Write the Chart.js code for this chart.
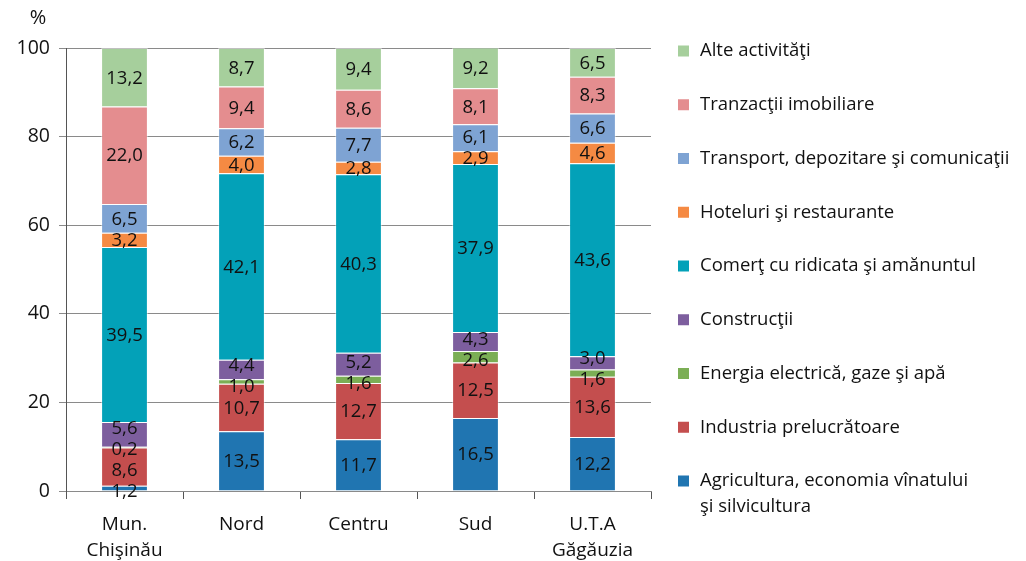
<!DOCTYPE html>
<html>
<head>
<meta charset="utf-8">
<script src="https://cdn.jsdelivr.net/npm/chart.js@4/dist/chart.umd.min.js"></script>
<style>
  body { margin: 0; background: #fff; }
  #wrap { width: 1026px; height: 561px; position: relative; }
</style>
</head>
<body>
<div id="wrap"><canvas id="chart"></canvas></div>
<script>
// Regions (x axis)
const categories = [["Mun.", "Chişinău"], "Nord", "Centru", "Sud", ["U.T.A", "Găgăuzia"]];

// Share of each activity, %
const agricultura = [1.2, 13.5, 11.7, 16.5, 12.2];
const industria = [8.6, 10.7, 12.7, 12.5, 13.6];
const energia = [0.2, 1.0, 1.6, 2.6, 1.6];
const constructii = [5.6, 4.4, 5.2, 4.3, 3.0];
const comert = [39.5, 42.1, 40.3, 37.9, 43.6];
const hoteluri = [3.2, 4.0, 2.8, 2.9, 4.6];
const transport = [6.5, 6.2, 7.7, 6.1, 6.6];
const tranzactii = [22.0, 9.4, 8.6, 8.1, 8.3];
const alte = [13.2, 8.7, 9.4, 9.2, 6.5];

const yTicks = [0, 20, 40, 60, 80, 100];

const FONT = "'Open Sans', 'DejaVu Sans', sans-serif";

const fmt = (v) => v.toFixed(1).replace(".", ",");

// Value labels inside the segments, nudged apart when they crowd
const segmentLabels = {
  id: "segmentLabels",
  afterDatasetsDraw(chart) {
    const ctx = chart.ctx;
    const gap = 21;
    ctx.save();
    ctx.font = "18.5px " + FONT;
    ctx.fillStyle = "#111";
    ctx.textAlign = "center";
    ctx.textBaseline = "middle";
    categories.forEach((c, i) => {
      const items = [];
      chart.data.datasets.forEach((ds, d) => {
        const bar = chart.getDatasetMeta(d).data[i];
        items.push({ x: bar.x, y: (bar.y + bar.base) / 2, text: fmt(ds.data[i]) });
      });
      items.sort((a, b) => b.y - a.y);
      for (let k = 0; k < 60; k++) {
        for (let j = 0; j < items.length - 1; j++) {
          const diff = items[j].y - items[j + 1].y;
          if (diff < gap) {
            const s = (gap - diff) / 2;
            items[j].y += s;
            items[j + 1].y -= s;
          }
        }
      }
      items.forEach((it) => ctx.fillText(it.text, it.x, it.y + 1));
    });
    ctx.restore();
  },
};

// Legend on the right, top item = last dataset
const sideLegend = {
  id: "sideLegend",
  afterDraw(chart) {
    const ctx = chart.ctx;
    const list = chart.data.datasets.slice().reverse();
    ctx.save();
    ctx.font = "18.5px " + FONT;
    ctx.textBaseline = "middle";
    ctx.textAlign = "left";
    list.forEach((ds, i) => {
      const y = 51 + i * 53.75;
      ctx.fillStyle = ds.backgroundColor;
      ctx.fillRect(678, y - 5.5, 11, 11);
      ctx.fillStyle = "#111";
      ds.label.split("\n").forEach((line, n) => {
        ctx.fillText(line, 700, y + n * 26);
      });
    });
    // unit
    ctx.font = "20px " + FONT;
    ctx.textAlign = "center";
    ctx.fillText("%", 38, 18);
    ctx.restore();
  },
};

const series = [
  { label: "Agricultura, economia vînatului\nşi silvicultura", data: agricultura, color: "#2075b1" },
  { label: "Industria prelucrătoare", data: industria, color: "#c44e4e" },
  { label: "Energia electrică, gaze şi apă", data: energia, color: "#7bae55" },
  { label: "Construcţii", data: constructii, color: "#7d5e9e" },
  { label: "Comerţ cu ridicata şi amănuntul", data: comert, color: "#03a1b8" },
  { label: "Hoteluri şi restaurante", data: hoteluri, color: "#f58a43" },
  { label: "Transport, depozitare şi comunicaţii", data: transport, color: "#7ea3d3" },
  { label: "Tranzacţii imobiliare", data: tranzactii, color: "#e48d8f" },
  { label: "Alte activităţi", data: alte, color: "#a6cf9c" },
];

new Chart(document.getElementById("chart"), {
  type: "bar",
  data: {
    labels: categories,
    datasets: series.map((s) => ({
      label: s.label,
      data: s.data,
      backgroundColor: s.color,
      borderColor: "rgba(255,255,255,0.45)",
      borderWidth: 1,
      barPercentage: 0.4,
      categoryPercentage: 1,
    })),
  },
  options: {
    responsive: true,
    maintainAspectRatio: false,
    animation: false,
    layout: { padding: { top: 48, right: 375, left: 0, bottom: 0 } },
    plugins: {
      legend: { display: false },
      tooltip: { enabled: false },
    },
    scales: {
      x: {
        stacked: true,
        afterFit: (scale) => { scale.height = 70; },
        grid: {
          offset: true,
          drawOnChartArea: false,
          drawTicks: true,
          tickLength: 8,
          color: "#555",
        },
        border: { display: true, color: "#8a8a8a" },
        ticks: {
          color: "#111",
          padding: 13,
          font: { family: FONT, size: 19, lineHeight: 1.37 },
          maxRotation: 0,
        },
      },
      y: {
        stacked: true,
        min: 0,
        max: 100,
        afterFit: (scale) => { scale.width = 66; },
        afterBuildTicks: (scale) => { scale.ticks = yTicks.map((v) => ({ value: v })); },
        grid: { color: "#8a8a8a", tickLength: 7, drawTicks: true },
        border: { display: true, color: "#555" },
        ticks: {
          color: "#111",
          padding: 9,
          font: { family: FONT, size: 19.5 },
        },
      },
    },
  },
  plugins: [segmentLabels, sideLegend],
});
</script>
</body>
</html>
